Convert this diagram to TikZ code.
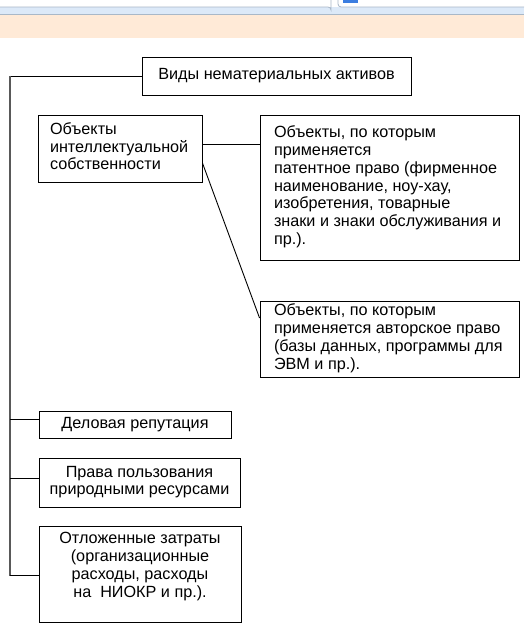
\documentclass[tikz,border=0pt]{standalone}
\usepackage{fontspec}
\setmainfont{Liberation Sans}
\newcommand\fs{\fontsize{16.2}{17.7}\selectfont}
\newcommand\lbox[3]{\makebox[#1][l]{\hspace*{#2}\begin{tabular}{@{}l@{}}#3\end{tabular}}}
\newcommand\cbox[2]{\raisebox{#1}[\height][\depth]{\begin{tabular}{@{}c@{}}#2\end{tabular}}}
\definecolor{chromeblue}{HTML}{DCE9F8}
\definecolor{chromeline}{HTML}{A9B8C8}
\definecolor{peach}{HTML}{FFEAD7}
\definecolor{iconblue}{HTML}{3B7DE0}
\begin{document}
\begin{tikzpicture}[x=1pt,y=-1pt,
  box/.style={draw=black,line width=0.9pt,inner sep=0pt,font=\fs,align=center},
  link/.style={draw=black,line width=0.9pt},
  trunk/.style={draw=black!65,line width=1.3pt}]
\useasboundingbox (0,0) rectangle (524,636);
\fill[white] (0,0) rectangle (524,636);
% browser strip
\fill[chromeblue] (0,7) rectangle (524,14);
\fill[chromeline] (0,14) rectangle (524,15);
\fill[peach] (0,15) rectangle (524,38);
\draw[chromeline,line width=0.8pt] (0,7) -- (328,7) arc[start angle=90,end angle=0,radius=3pt] -- (331,0);
\draw[chromeline,line width=0.8pt] (338,0) -- (338,4) arc[start angle=180,end angle=270,radius=3pt] -- (524,7);
\fill[iconblue] (343,0) rectangle (358,3);
% boxes
\node[box,minimum width=269pt,minimum height=38pt] (top) at (276.5,76) {Виды нематериальных активов};
\node[box,minimum height=67pt] (ip) at (120,148.5)
  {\lbox{164pt}{12pt}{Объекты\\интеллектуальной\\собственности}};
\node[box,minimum height=145pt] (patent) at (389.5,187.5)
  {\lbox{259pt}{14pt}{Объекты, по которым\\применяется\\патентное право (фирменное\\наименование, ноу-хау,\\изобретения, товарные\\знаки и знаки обслуживания и\\пр.).}};
\node[box,minimum height=76pt] (author) at (389.5,339)
  {\lbox{259pt}{14pt}{Объекты, по которым\\применяется авторское право\\(базы данных, программы для\\ЭВМ и пр.).}};
\node[box,minimum width=192pt,minimum height=27pt] (rep) at (135,424.5) {Деловая репутация};
\node[box,minimum width=201pt,minimum height=49pt] (nat) at (139.5,482.5)
  {\cbox{0pt}{Права пользования\\природными ресурсами}};
\node[box,minimum width=202pt,minimum height=96pt] (def) at (140,574)
  {\cbox{7pt}{Отложенные затраты\\(организационные\\расходы, расходы\\на\ \ НИОКР и пр.).}};
% connectors
\coordinate (t0) at (10,76);
\coordinate (t1) at (10,576);
\draw[link] (top.west) -- (t0);
\draw[trunk] (t0) -- (t1);
\draw[link] ([yshift=5.5pt]rep.west) -- ([yshift=5.5pt]rep.west -| t0);
\draw[link] ([yshift=4.5pt]nat.west) -- ([yshift=4.5pt]nat.west -| t0);
\draw[link] ([yshift=-1pt]def.west) -- ([yshift=-1pt]def.west -| t0);
\draw[link] ([yshift=4.5pt]ip.east) -- ([yshift=4.5pt]ip.east -| patent.west);
\draw[link] ([yshift=-14.5pt]ip.east) -- ([yshift=21pt]author.west);
\end{tikzpicture}
\end{document}
